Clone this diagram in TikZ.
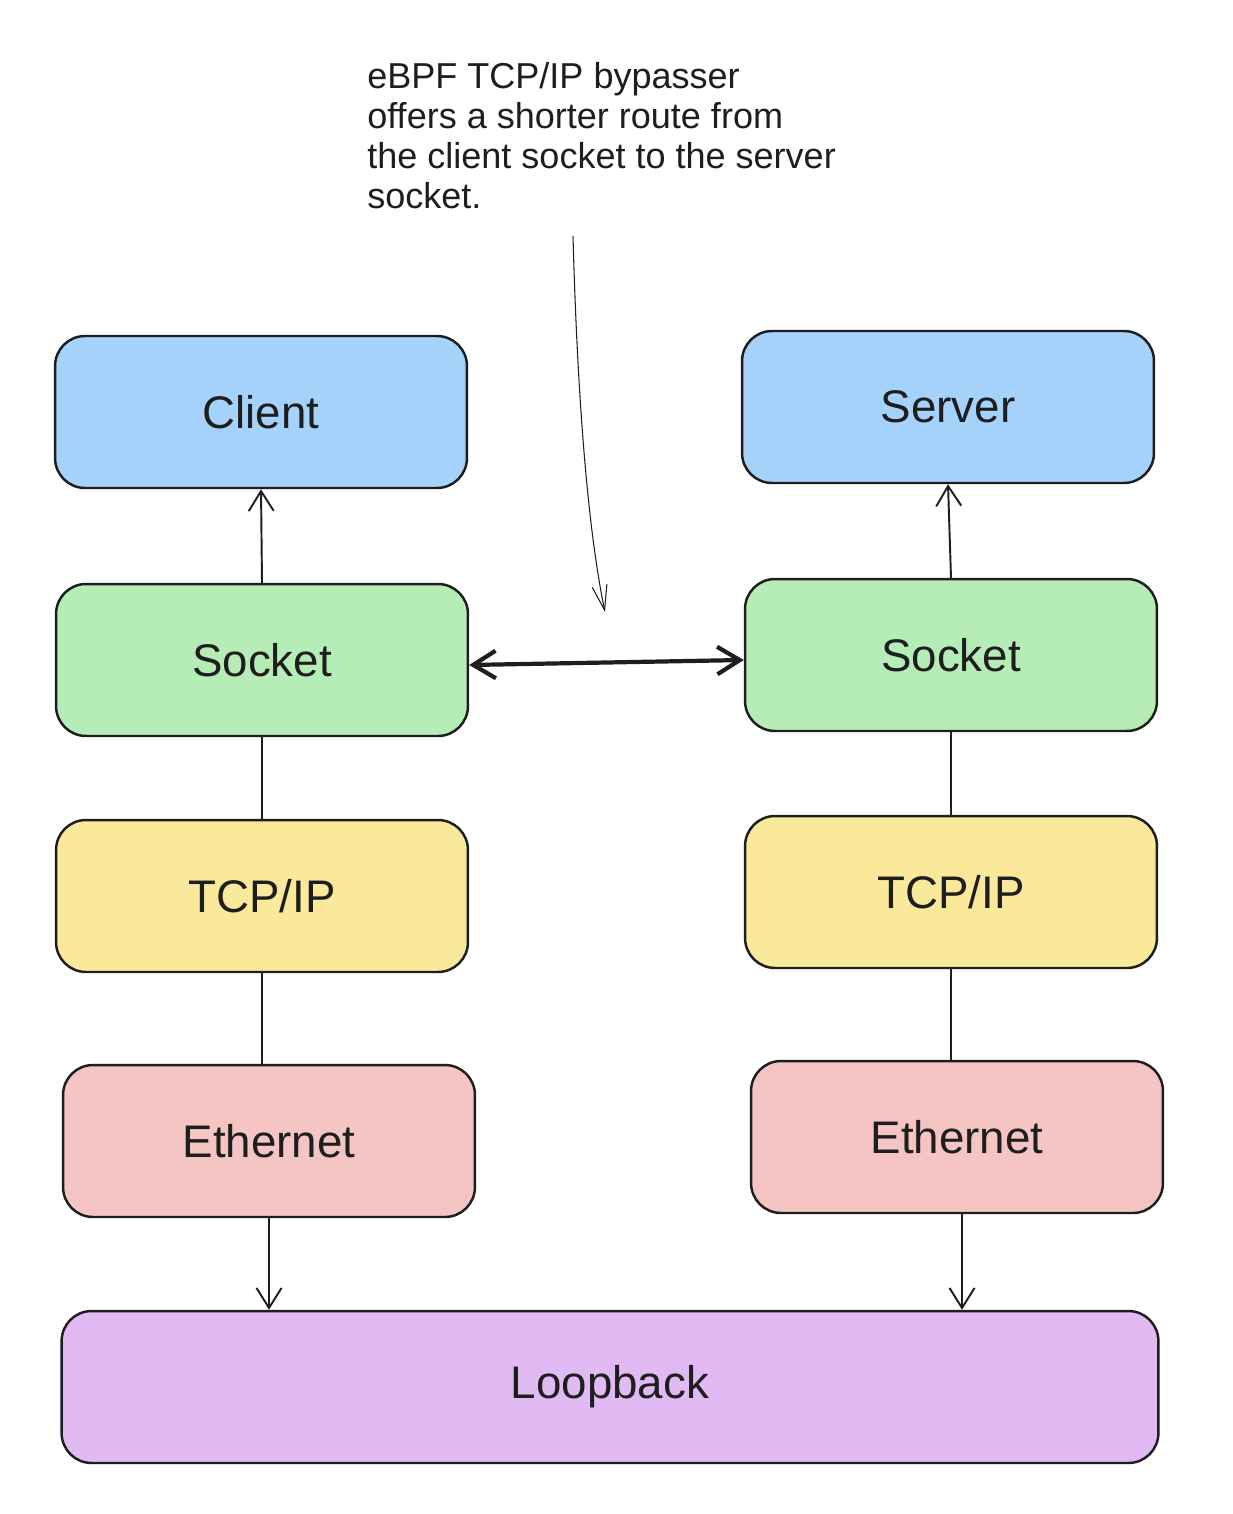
\documentclass[tikz,border=0pt]{standalone}
\usepackage{fontspec}
\setmainfont{Liberation Sans}
\usetikzlibrary{arrows.meta}

\definecolor{clientblue}{HTML}{A5D2FA}
\definecolor{socketgreen}{HTML}{B6EDB6}
\definecolor{tcpyellow}{HTML}{FAE89B}
\definecolor{ethred}{HTML}{F4C5C3}
\definecolor{loopviolet}{HTML}{E1BAF4}
\definecolor{inkgray}{HTML}{1E1E1E}

\tikzset{
  layer/.style={draw=inkgray, line width=1.4pt, rounded corners=0.6cm,
    minimum width=8.24cm, minimum height=3.04cm, inner sep=0pt,
    font=\fontsize{26}{30}\selectfont, text=inkgray},
  link/.style={draw=inkgray, line width=1.1pt},
  linkarrow/.style={link, -{Straight Barb[length=4mm,width=5mm,line width=1.1pt]}},
}

\begin{document}
\begin{tikzpicture}[x=0.02cm, y=-0.02cm]
    \useasboundingbox (0,0) rectangle (1232,1514);

    % Note
    \node[anchor=north west, align=left, inner sep=0pt, text=inkgray,
          font=\fontsize{20.5}{22.7}\selectfont] (note) at (367,62)
        {eBPF TCP/IP bypasser\\
         offers a shorter route from\\
         the client socket to the server\\
         socket.};
    \coordinate (noteFrom) at (573,236);
    \coordinate (noteTo) at (605,612);

    % Client side
    \node[layer, fill=clientblue] (client) at (261,412) {Client};
    \node[layer, fill=socketgreen] (sockL) at (262,660) {Socket};
    \node[layer, fill=tcpyellow] (tcpL) at (262,896) {TCP/IP};
    \node[layer, fill=ethred] (ethL) at (269,1141) {Ethernet};

    % Server side
    \node[layer, fill=clientblue] (server) at (948,407) {Server};
    \node[layer, fill=socketgreen] (sockR) at (951,655) {Socket};
    \node[layer, fill=tcpyellow] (tcpR) at (951,892) {TCP/IP};
    \node[layer, fill=ethred] (ethR) at (957,1137) {Ethernet};

    % Loopback
    \node[layer, fill=loopviolet, minimum width=21.94cm] (loop) at (610,1387) {Loopback};

    % Connectors
    \draw[linkarrow] (sockL.north) -- (client.south);
    \draw[linkarrow] (sockR.north) -- (server.south);
    \draw[link] (sockL.south) -- (tcpL.north);
    \draw[link] (sockR.south) -- (tcpR.north);
    \draw[link] (tcpL.south) -- (tcpL.south |- ethL.north);
    \draw[link] (tcpR.south) -- (tcpR.south |- ethR.north);
    \draw[linkarrow] (ethL.south) -- (ethL.south |- loop.north);
    \draw[linkarrow] ([xshift=0.1cm]ethR.south) -- ([xshift=0.1cm]ethR.south |- loop.north);

    % Bypass
    \draw[draw=inkgray, line width=2.4pt,
          {Straight Barb[length=4.5mm,width=5.5mm,line width=2.4pt]}-{Straight Barb[length=4.5mm,width=5.5mm,line width=2.4pt]}]
        ([yshift=-0.1cm]sockL.east) -- ([yshift=-0.1cm]sockR.west);
    \draw[draw=inkgray, line width=0.6pt, -{Straight Barb[length=5mm,width=3mm,line width=0.6pt]}]
        (noteFrom) .. controls (578,420) and (590,540) .. (noteTo);
\end{tikzpicture}
\end{document}
